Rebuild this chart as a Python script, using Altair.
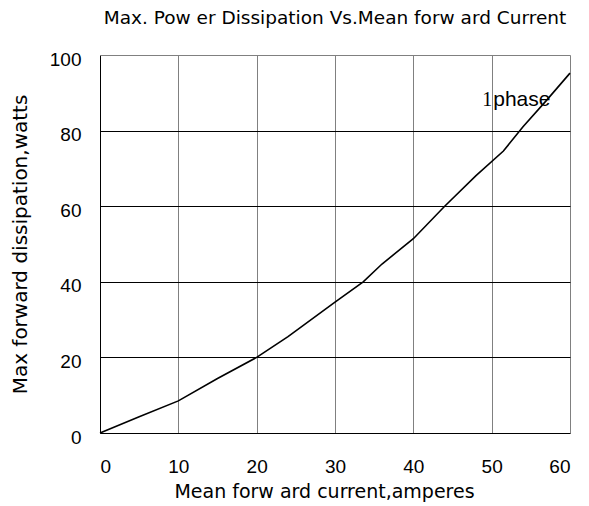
import altair as alt
import pandas as pd

# Data
current = [0, 5, 10, 15, 20, 24, 30, 33.6, 36, 40, 44, 48, 51.5, 54, 57, 60]
power = [0, 4.3, 8.5, 14.4, 20, 25.5, 34.6, 40, 44.7, 51.4, 60, 68.1, 74.6, 81, 88, 95.2]

x_ticks = [0, 10, 20, 30, 40, 50, 60]
y_ticks = [0, 20, 40, 60, 80, 100]

label_one = ["1"]
label_one_x = [48.8]
label_one_y = [86.5]
label_phase = ["phase"]
label_phase_x = [50.2]
label_phase_y = [86.5]

chart_title = ["Max. Pow er Dissipation Vs.Mean forw ard Current"]

df = pd.DataFrame({"current": current, "power": power})
df_one = pd.DataFrame({"x": label_one_x, "y": label_one_y, "t": label_one})
df_phase = pd.DataFrame({"x": label_phase_x, "y": label_phase_y, "t": label_phase})
df_title = pd.DataFrame({"t": chart_title})

SANS = "Liberation Sans"
WIDE = "DejaVu Sans"

x_scale = alt.Scale(domain=[0, 60], nice=False)
y_scale = alt.Scale(domain=[0, 100], nice=False)

x_axis = alt.Axis(
    values=x_ticks,
    title="Mean forw ard current,amperes",
    grid=True,
    gridColor={"condition": {"test": "datum.value === 0", "value": "#000000"}, "value": "#808080"},
    gridWidth=1,
    gridOpacity=1,
    domain=False,
    ticks=False,
    labelPadding=24,
    labelFont=SANS,
    labelFontSize=19,
    labelColor="#000000",
    titleFont=WIDE,
    titleFontSize=19,
    titleFontWeight="normal",
    titleColor="#000000",
    titleBaseline="alphabetic",
    titleY=64,
    titleX=224,
    titleAlign="center",
)

y_axis = alt.Axis(
    values=y_ticks,
    title="Max forward dissipation,watts",
    grid=True,
    gridColor={"condition": {"test": "datum.value === 100", "value": "#808080"}, "value": "#000000"},
    gridWidth=1,
    gridOpacity=1,
    domain=False,
    ticks=False,
    labelPadding=19,
    labelOffset=4,
    labelFont=SANS,
    labelFontSize=19,
    labelColor="#000000",
    titleFont=WIDE,
    titleFontSize=20,
    titleFontWeight="normal",
    titleColor="#000000",
    titleAngle=-90,
    titleBaseline="alphabetic",
    titleAlign="center",
    titleX=-74,
    titleY=189,
)

line = alt.Chart(df).mark_line(color="#000000", strokeWidth=1.6).encode(
    x=alt.X("current:Q", scale=x_scale, axis=x_axis),
    y=alt.Y("power:Q", scale=y_scale, axis=y_axis),
)

one = alt.Chart(df_one).mark_text(
    font="Liberation Serif", fontSize=20, align="left", baseline="alphabetic", color="#000000"
).encode(x=alt.X("x:Q", scale=x_scale), y=alt.Y("y:Q", scale=y_scale), text="t:N")

phase = alt.Chart(df_phase).mark_text(
    font=SANS, fontSize=21, align="left", baseline="alphabetic", color="#000000"
).encode(x=alt.X("x:Q", scale=x_scale), y=alt.Y("y:Q", scale=y_scale), text="t:N")

title_text = alt.Chart(df_title).mark_text(
    font=WIDE, fontSize=18.5, align="center", baseline="alphabetic", color="#000000"
).encode(x=alt.value(235), y=alt.value(-31), text="t:N")

chart = alt.layer(line, one, phase, title_text).properties(
    width=470,
    height=378,
    autosize=alt.AutoSizeParams(type="none"),
    padding={"left": 92, "top": 47, "right": 11, "bottom": 70},
).configure_view(stroke=None).configure(background="#ffffff")

chart.save("out.html", embed_options={"renderer": "svg", "actions": False})
